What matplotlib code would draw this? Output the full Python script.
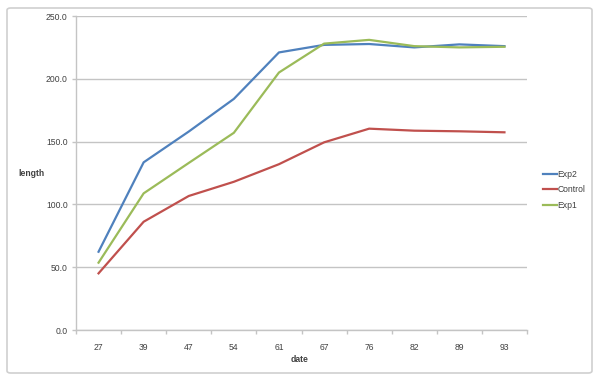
import numpy as np
import matplotlib.pyplot as plt
from matplotlib.patches import FancyBboxPatch

# 数据
dates = ["27", "39", "47", "54", "61", "67", "76", "82", "89", "93"]
exp2 = [62.3, 133.5, 158.0, 184.0, 221.0, 227.0, 227.7, 225.0, 227.4, 226.0]
control = [45.1, 86.2, 106.7, 118.0, 132.0, 149.4, 160.3, 158.7, 158.2, 157.4]
exp1 = [53.6, 108.8, 133.0, 157.0, 205.0, 228.0, 231.0, 226.0, 225.0, 225.5]

FONT = ["Liberation Sans", "DejaVu Sans"]
TEXT_COLOR = "#404040"
GRID_COLOR = "#c4c4c4"
FS = 6.2


def main():
    plt.rcParams["font.family"] = FONT
    fig = plt.figure(figsize=(6.0, 3.82), dpi=100)

    # 外框，放在坐标轴下面
    frame = FancyBboxPatch(
        (7 / 600, 9 / 382), 585 / 600, 365 / 382,
        boxstyle="round,pad=0,rounding_size=0.006",
        transform=fig.transFigure, facecolor="white",
        edgecolor="#d0d0d0", linewidth=1.2, zorder=-10,
    )
    fig.patches.append(frame)

    ax = fig.add_axes([76 / 600, 52 / 382, 451 / 600, 314 / 382])
    ax.set_facecolor("none")

    x = np.arange(len(dates))
    ax.plot(x, exp2, color="#4f81bd", lw=1.6, label="Exp2", solid_joinstyle="round")
    ax.plot(x, control, color="#c0504d", lw=1.6, label="Control", solid_joinstyle="round")
    ax.plot(x, exp1, color="#9bbb59", lw=1.6, label="Exp1", solid_joinstyle="round")

    ax.set_xlim(-0.5, len(dates) - 0.5)
    ax.set_ylim(0, 250)
    ax.set_yticks(np.arange(0, 251, 50))
    ax.set_yticklabels([f"{v:.1f}" for v in np.arange(0, 251, 50)])
    ax.set_xticks(x)
    ax.set_xticklabels(dates)
    ax.set_xticks(np.arange(-0.5, len(dates)), minor=True)

    ax.grid(axis="y", color=GRID_COLOR, lw=1.0)
    ax.set_axisbelow(True)
    for side in ["top", "right"]:
        ax.spines[side].set_visible(False)
    for side in ["left", "bottom"]:
        ax.spines[side].set_color(GRID_COLOR)
        ax.spines[side].set_linewidth(1.0)

    ax.tick_params(axis="x", which="major", length=0, pad=9,
                   labelsize=FS, labelcolor=TEXT_COLOR)
    ax.tick_params(axis="x", which="minor", length=3, color=GRID_COLOR, width=1.0)
    ax.tick_params(axis="y", length=3, color=GRID_COLOR, width=1.0, pad=3,
                   labelsize=FS, labelcolor=TEXT_COLOR)

    fig.text(18 / 600, 1 - 173 / 382, "length", fontsize=FS, fontweight="bold",
             color=TEXT_COLOR, va="center", ha="left")
    fig.text(300 / 600, 1 - 359 / 382, "date", fontsize=FS, fontweight="bold",
             color=TEXT_COLOR, va="center", ha="center")

    ax.legend(loc="center left", bbox_to_anchor=(535 / 600, 1 - 190 / 382),
              bbox_transform=fig.transFigure, frameon=False, fontsize=FS,
              handlelength=1.6, handletextpad=0.1, labelspacing=0.75,
              labelcolor=TEXT_COLOR)

    fig.savefig("out.png", dpi=100)
    plt.close(fig)


if __name__ == "__main__":
    main()
